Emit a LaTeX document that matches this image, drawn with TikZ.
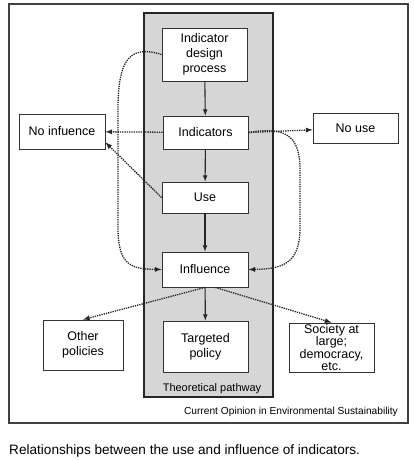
\documentclass[tikz,border=0pt]{standalone}
\usepackage{fontspec}
\setmainfont{Liberation Sans}
\usepackage{tikz}
\usetikzlibrary{arrows,positioning,calc}

\begin{document}
\begin{tikzpicture}[x=1pt,y=-1pt,>=latex,
  every node/.style={inner sep=0pt,align=center,font=\fontsize{12.5}{15}\selectfont},
  box/.style={draw=black!80,line width=0.9pt,fill=white},
  flow/.style={->,line width=1.1pt,black!85},
  dots/.style={->,densely dotted,line width=1.3pt,black!85}]
\useasboundingbox (0,0) rectangle (414,460);
\draw[black!75,line width=1.2pt] (9,4) rectangle (408,423);
\draw[black!85,fill=black!16,line width=1.4pt] (144,13) rectangle (273,397);

\node[box,minimum width=85pt,minimum height=53pt] (design) at (204.5,54.5) {Indicator\\design\\process};
\node[box,minimum width=85pt,minimum height=33pt] (ind) at (205.5,132.5) {Indicators};
\node[box,minimum width=86pt,minimum height=31pt] (use) at (205,197.5) {Use};
\node[box,minimum width=86pt,minimum height=35pt] (infl) at (205,269.5) {Influence};
\node[box,minimum width=85pt,minimum height=51pt] (target) at (205.5,346.5) {Targeted\\policy};
\node[box,minimum width=80pt,minimum height=50pt] (other) at (83,345) {Other\\policies};
\node[box,minimum width=85pt,minimum height=49pt,font=\fontsize{12.5}{12.3}\selectfont] (society) at (331.5,347.5) {Society at\\large;\\democracy,\\etc.};
\node[box,minimum width=86pt,minimum height=35pt] (noinfl) at (62,131.5) {No infuence};
\node[box,minimum width=85pt,minimum height=30pt] (nouse) at (355.5,128) {No use};

\node[anchor=base,font=\fontsize{11}{13}\selectfont] (path) at (212,391) {Theoretical pathway};
\node[anchor=base east,font=\fontsize{10.2}{12}\selectfont] (source) at (398,414) {Current Opinion in Environmental Sustainability};
\node[anchor=base west,font=\fontsize{13.6}{15}\selectfont] (caption) at (9,454) {Relationships between the use and influence of indicators.};

% theoretical pathway
\draw[flow] (design) -- (ind);
\draw[flow] (ind) -- (use);
\draw[flow] (use) -- (infl);
\draw[flow] (infl) -- (target);

% other relations
\draw[dots] (ind) -- (noinfl);
\draw[dots] (use.west) -- (noinfl.-14);
\draw[dots] (ind.east) -- (nouse);
\draw[dots] (design.west) .. controls (128,44) and (118,62) .. (118,110) -- (118,228) .. controls (118,266) and (132,269) .. (infl.west);
\draw[dots] (ind.east) .. controls (286,126) and (300,136) .. (300,170) -- (300,228) .. controls (300,264) and (282,269) .. (infl.east);
\draw[dots] (infl.south) -- (other.north);
\draw[dots] (infl.-60) -- (society.north);
\end{tikzpicture}
\end{document}
